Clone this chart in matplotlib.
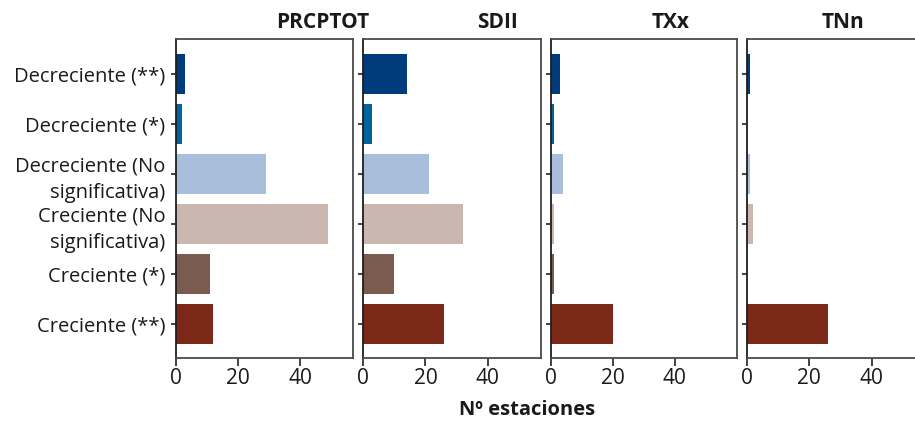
import matplotlib
matplotlib.use("Agg")
import matplotlib.pyplot as plt

plt.rcParams['font.family'] = ['Open Sans', 'DejaVu Sans']

categories = ["Decreciente (**)", "Decreciente (*)", "Decreciente (No\nsignificativa)",
              "Creciente (No\nsignificativa)", "Creciente (*)", "Creciente (**)"]
colors = ["#003B7B", "#00639E", "#A8BEDA", "#CAB8B0", "#7B5A4F", "#7B2819"]
indices = ["PRCPTOT", "SDII", "TXx", "TNn"]
prcptot = [3, 2, 29, 49, 11, 12]
sdii = [14, 3, 21, 32, 10, 26]
txx = [3, 1, 4, 1, 1, 20]
tnn = [1, 0, 1, 2, 0, 26]
series = [prcptot, sdii, txx, tnn]
xticks = [0, 20, 40]
xlabel = "Nº estaciones"

W, H = 915, 422
fig = plt.figure(figsize=(W / 100, H / 100), dpi=100)

lefts = [175.7, 363.0, 550.7, 746.7]
widths = [177.6, 178.0, 186.3, 178.0]
xmax = [57, 57, 60, 57]
top, bottom = 39, 358.3
title_x = [323, 497, 671, 843]

spine_dark = "#1e1e1e"
spine_grey = "#4a4a4a"
for i, vals in enumerate(series):
    ax = fig.add_axes([lefts[i] / W, 1 - bottom / H, widths[i] / W, (bottom - top) / H])
    y = list(range(len(categories)))
    ax.barh(y, vals, height=0.8, color=colors)
    ax.set_yticks(y)
    if i == 0:
        ax.set_yticklabels(categories, fontsize=14.5, color="#1a1a1a", linespacing=1.45)
    else:
        ax.set_yticklabels([])
    ax.set_ylim(5.69, -0.69)
    ax.set_xlim(0, xmax[i])
    ax.set_xticks(xticks)
    ax.set_xticklabels([str(t) for t in xticks], fontsize=15, color="#1a1a1a")
    for s in ["top", "right", "bottom"]:
        ax.spines[s].set_color(spine_grey)
        ax.spines[s].set_linewidth(1.3)
    ax.spines["left"].set_color(spine_dark)
    ax.spines["left"].set_linewidth(1.3)
    ax.tick_params(axis="x", length=5.5, width=1.2, color="#222222", pad=1.5)
    ax.tick_params(axis="y", length=3.5, width=1.2, color="#222222", pad=4)
    fig.text(title_x[i] / W, 1 - 22 / H, indices[i], ha="center", va="center",
             fontsize=15, fontweight="bold", color="#1a1a1a")

fig.text(527 / W, 1 - 410 / H, xlabel, ha="center", va="center",
         fontsize=14.5, fontweight="bold", color="#1a1a1a")

fig.savefig("out.png", dpi=100, facecolor="white")
